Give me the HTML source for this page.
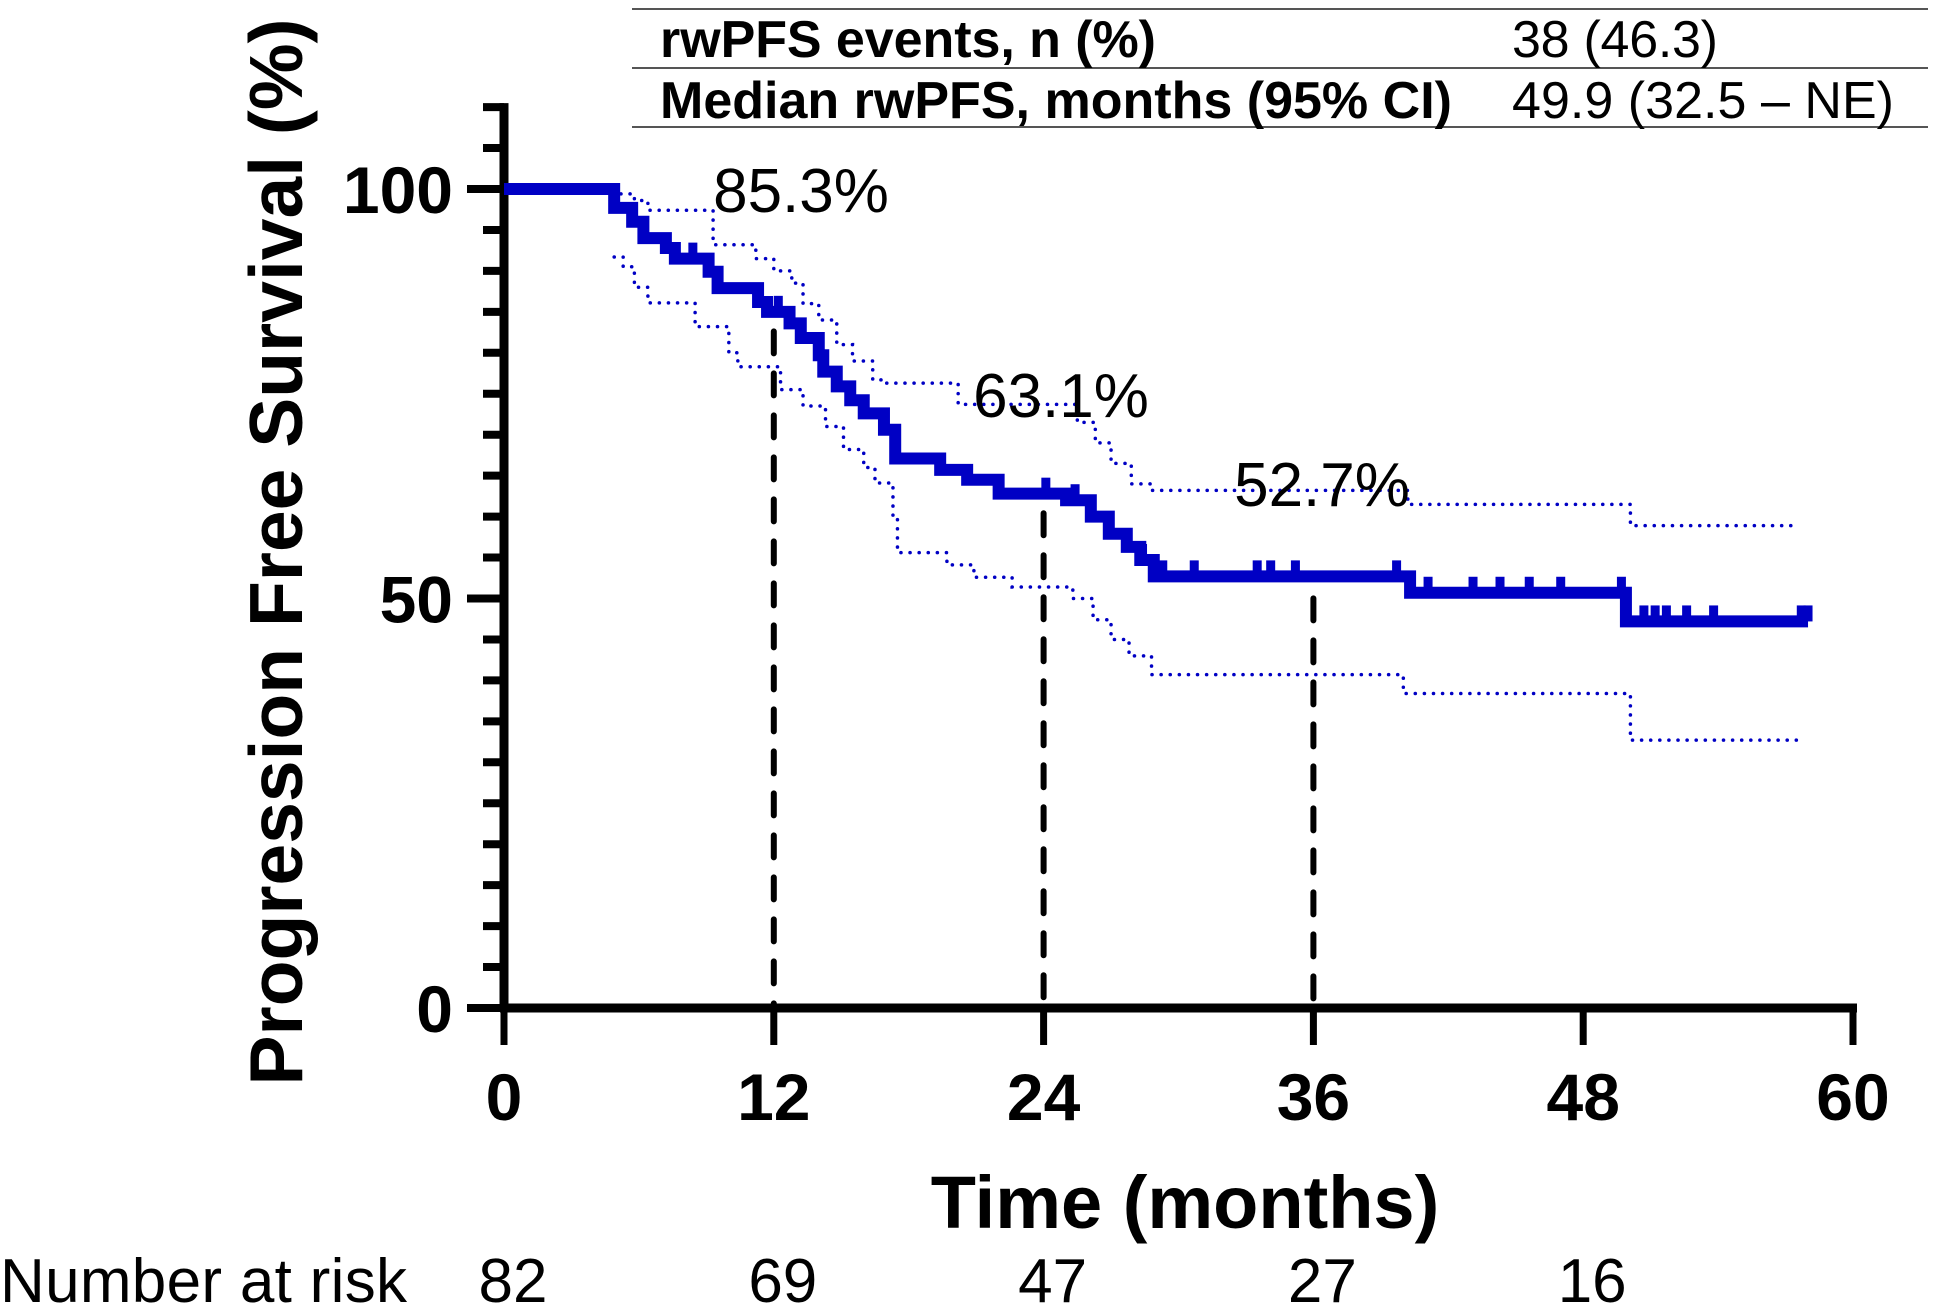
<!DOCTYPE html>
<html><head><meta charset="utf-8"><style>
html,body{margin:0;padding:0;background:#fff;}
svg{display:block;font-family:"Liberation Sans",Arial,sans-serif;}
</style></head><body>
<svg id="chart" width="1935" height="1310" viewBox="0 0 1935 1310" xmlns="http://www.w3.org/2000/svg">
<g>
<line x1="632" y1="9" x2="1928" y2="9" stroke="#555" stroke-width="2"/>
<line x1="632" y1="68" x2="1928" y2="68" stroke="#555" stroke-width="2"/>
<line x1="632" y1="127" x2="1928" y2="127" stroke="#555" stroke-width="2"/>
<text x="660" y="57" font-size="52" font-weight="bold" textLength="496">rwPFS events, n (%)</text>
<text x="1512" y="57" font-size="52" textLength="206">38 (46.3)</text>
<text x="660" y="118" font-size="52" font-weight="bold" textLength="792">Median rwPFS, months (95% CI)</text>
<text x="1512" y="118" font-size="52" textLength="382">49.9 (32.5 – NE)</text>
</g>
<text transform="translate(302,552) rotate(-90)" text-anchor="middle" font-size="75" font-weight="bold">Progression Free Survival (%)</text>
<text x="1185" y="1228" text-anchor="middle" font-size="74" font-weight="bold">Time (months)</text>
<text x="0" y="1302" font-size="62" textLength="407">Number at risk</text>
<g id="axes"></g>
<g id="plot"></g>
</svg>
<script>
// ---- data ----
const xTicks = [0, 12, 24, 36, 48, 60];
const yTicks = [0, 50, 100];
const atRisk = [82, 69, 47, 27, 16];
const atRiskTimes = [0, 12, 24, 36, 48];
const kmTimes = [0, 4.9, 5.7, 6.2, 7.2, 7.6, 9.1, 9.5, 11.3, 11.7, 12.7, 13.2, 14.0, 14.2, 14.8, 15.4, 16.0, 16.9, 17.4, 19.4, 20.6, 22.0, 25.0, 26.1, 26.9, 27.7, 28.3, 28.9, 40.3, 49.9];
const kmSurv  = [100, 97.7, 96.0, 94.0, 92.8, 91.5, 89.9, 87.9, 86.2, 85.0, 83.6, 81.8, 79.7, 77.7, 75.9, 74.2, 72.6, 70.6, 67.1, 65.7, 64.5, 62.8, 62.0, 60.0, 57.9, 56.3, 54.7, 52.7, 50.7, 47.2];
const kmEnd = 58;
const censorTimes = [8.4, 11.3, 12.2, 24.1, 25.4, 28.4, 29.3, 30.7, 33.5, 34.1, 35.2, 39.7, 41.1, 43.1, 44.3, 45.6, 47.0, 49.7, 50.7, 51.2, 51.7, 52.6, 53.8, 57.7];
const upperTimes = [5.2, 5.8, 6.4, 8.8, 9.3, 10.6, 11.2, 12, 12.8, 13.3, 14, 14.8, 15.5, 16.4, 17, 19.8, 20.2, 24.7, 25.5, 26.3, 27, 27.9, 28.8, 39.6, 40.2, 49.8, 50.1, 57.5];
const upperVals  = [99.4, 98.6, 97.4, 97.4, 93.2, 93.2, 91.5, 90, 88.5, 86, 84, 81, 79, 76.7, 76.3, 76.3, 73.7, 73.7, 71.5, 69, 66.5, 64, 63.2, 63.2, 61.5, 61.5, 58.9, 58.9];
const lowerTimes = [4.9, 5.3, 5.8, 6.4, 8.5, 10, 10.4, 11.5, 12.3, 13.3, 14.3, 15.1, 16, 16.5, 17.3, 17.5, 19, 19.7, 20.9, 22.6, 24.3, 25.3, 26.2, 27, 27.8, 28.8, 39.6, 40, 49.8, 50.1, 57.5];
const lowerVals  = [91.7, 90.5, 88, 86.1, 83.2, 80, 78.3, 78.3, 75.5, 73.5, 71, 68.2, 66, 64.1, 60, 55.6, 55.6, 54.1, 52.6, 51.4, 51.4, 50, 47.4, 45, 43, 40.7, 40.7, 38.4, 38.4, 32.7, 32.7];
const landmarkTimes = [12, 24, 36];
const landmarkVals = [85.3, 63.1, 52.7];
const landmarkLabels = ["85.3%", "63.1%", "52.7%"];

// ---- scales ----
const X0 = 504, X1 = 1853, Y0 = 1008, Y100 = 189;
const xs = t => X0 + (X1 - X0) * t / 60;
const ys = v => Y0 - (Y0 - Y100) * v / 100;
const NS = "http://www.w3.org/2000/svg";
function mk(tag, parent, attrs) {
  const e = document.createElementNS(NS, tag);
  for (const k in attrs) e.setAttribute(k, attrs[k]);
  parent.appendChild(e);
  return e;
}
const axes = document.getElementById('axes');
const plot = document.getElementById('plot');
const BLUE = "#0000c4";

let e = mk('line', axes, {x1: X0, y1: ys(110) - 4, x2: X0, y2: Y0 + 4, stroke: '#000', 'stroke-width': 9});


e = mk('line', axes, {x1: X0 - 4, y1: Y0, x2: X1 + 4, y2: Y0, stroke: '#000', 'stroke-width': 9});


for (let v = 0; v <= 110; v += 5) {
  const major = yTicks.includes(v);
  e = mk('line', axes, {x1: X0 - (major ? 37 : 21), y1: ys(v), x2: X0, y2: ys(v), stroke: '#000', 'stroke-width': 8});
  
  
}
yTicks.forEach(v => {
  e = mk('text', axes, {x: 453, y: ys(v) + 24, 'text-anchor': 'end', 'font-size': 66, 'font-weight': 'bold'});
  e.textContent = v;
  
  
});
xTicks.forEach(t => {
  e = mk('line', axes, {x1: xs(t), y1: Y0, x2: xs(t), y2: 1045, stroke: '#000', 'stroke-width': 7});
  
  
  e = mk('text', axes, {x: xs(t), y: 1120, 'text-anchor': 'middle', 'font-size': 66, 'font-weight': 'bold'});
  e.textContent = t;
  
  
});
atRisk.forEach((n, i) => {
  e = mk('text', axes, {x: xs(atRiskTimes[i]) + 9, y: 1302, 'text-anchor': 'middle', 'font-size': 62});
  e.textContent = n;
  
  
});

function stepPath(ts, vs, tEnd) {
  let d = `M${xs(ts[0])},${ys(vs[0])}`;
  for (let i = 1; i < ts.length; i++) d += ` H${xs(ts[i])} V${ys(vs[i])}`;
  d += ` H${xs(tEnd)}`;
  return d;
}
function survAt(t) {
  let v = kmSurv[0];
  for (let i = 0; i < kmTimes.length; i++) if (kmTimes[i] <= t) v = kmSurv[i];
  return v;
}

landmarkTimes.forEach((t, i) => {
  e = mk('line', plot, {x1: xs(t), y1: ys(landmarkVals[i]) + 22, x2: xs(t), y2: Y0 - 4, stroke: '#000', 'stroke-width': 6, 'stroke-dasharray': '22 20', 'stroke-linecap': 'round'});
  
  
});
e = mk('path', plot, {d: stepPath(upperTimes, upperVals, upperTimes[upperTimes.length - 1]), fill: 'none', stroke: BLUE, 'stroke-width': 3.5, 'stroke-dasharray': '0.1 9', 'stroke-linecap': 'round'});


e = mk('path', plot, {d: stepPath(lowerTimes, lowerVals, lowerTimes[lowerTimes.length - 1]), fill: 'none', stroke: BLUE, 'stroke-width': 3.5, 'stroke-dasharray': '0.1 9', 'stroke-linecap': 'round'});


e = mk('path', plot, {d: stepPath(kmTimes, kmSurv, kmEnd), fill: 'none', stroke: BLUE, 'stroke-width': 12, 'stroke-linejoin': 'miter'});


censorTimes.concat([kmEnd]).forEach(t => {
  const v = survAt(t);
  e = mk('rect', plot, {x: xs(t) - 4.5, y: ys(v) - 16, width: 9, height: 16, fill: BLUE});
  
  
});
const labelPos = [[801, 212], [1061, 417], [1322, 506]];
landmarkLabels.forEach((s, i) => {
  e = mk('text', plot, {x: labelPos[i][0], y: labelPos[i][1], 'text-anchor': 'middle', 'font-size': 62});
  e.textContent = s;
  
  
});
</script>
</body></html>
